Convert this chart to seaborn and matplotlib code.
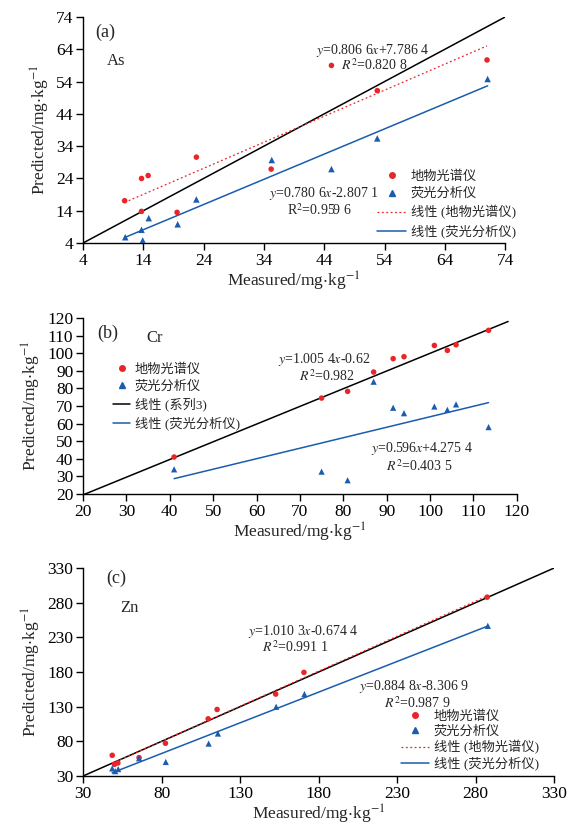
import numpy as np
import pandas as pd
import matplotlib
matplotlib.use("Agg")
import matplotlib.pyplot as plt
import seaborn as sns
from matplotlib.lines import Line2D

sns.set_style("ticks")
plt.rcParams['font.family'] = ['Liberation Serif', 'Noto Sans CJK SC']
plt.rcParams['mathtext.fontset'] = 'stix'
plt.rcParams['axes.unicode_minus'] = False

# (a) As
as_x_red = [10.9, 13.7, 14.8, 13.7, 19.6, 22.8, 35.2, 45.2, 52.8, 71.0]
as_y_red = [17.1, 24.0, 24.9, 13.8, 13.5, 30.6, 26.9, 59.0, 51.2, 60.7]
as_x_blue = [11.0, 13.7, 13.9, 14.9, 19.7, 22.8, 35.3, 45.2, 52.8, 71.1]
as_y_blue = [5.8, 8.1, 4.8, 11.7, 9.8, 17.5, 29.7, 26.9, 36.4, 54.8]
as_fit_red = [0.8066, 7.7864]
as_fit_blue = [0.7806, -2.8071]

# (b) Cr
cr_x = [41.0, 75.0, 81.0, 87.0, 91.5, 94.0, 101.0, 104.0, 106.0, 113.5]
cr_y_red = [41.0, 74.5, 78.3, 89.3, 96.9, 98.0, 104.4, 101.6, 104.8, 113.0]
cr_y_blue = [34.0, 32.7, 27.8, 83.8, 69.0, 65.9, 69.7, 67.8, 70.9, 58.0]
cr_fit_red = [1.0054, -0.62]
cr_fit_blue = [0.596, 4.2754]

# (c) Zn
zn_x_red = [48.6, 50.0, 52.2, 65.7, 82.5, 109.7, 115.4, 152.7, 170.7, 287.4]
zn_y_red = [59.9, 46.9, 48.8, 56.5, 77.3, 112.5, 126.0, 148.2, 179.5, 288.0]
zn_x_blue = [48.6, 50.5, 52.4, 65.7, 82.7, 110.0, 115.9, 153.0, 171.0, 287.8]
zn_y_blue = [41.0, 37.0, 40.0, 55.6, 50.3, 76.8, 91.3, 129.9, 148.2, 246.6]
zn_fit_red = [1.0103, -0.6744]
zn_fit_blue = [0.8848, -8.3069]

RED = '#e8262a'
BLUE = '#1a5cae'
EQ = 10
LEG = 9.5

fig = plt.figure(figsize=(5.83, 8.34), dpi=100)
ax_a = fig.add_axes([0.1424, 0.7086, 0.724, 0.271])
ax_b = fig.add_axes([0.1424, 0.4077, 0.744, 0.211])
ax_c = fig.add_axes([0.1424, 0.0695, 0.808, 0.2494])

ylab = r"Predicted/mg$\cdot$kg$^{-1}$"
xlab = r"Measured/mg$\cdot$kg$^{-1}$"


def scatter(ax, x, y, color, marker, size):
    df = pd.DataFrame({'x': x, 'y': y})
    sns.scatterplot(data=df, x='x', y='y', ax=ax, color=color, marker=marker,
                    s=size, edgecolor='none', zorder=4)


def fitline(ax, x, coef, **kw):
    xs = np.array([min(x), max(x)])
    df = pd.DataFrame({'x': xs, 'y': coef[0] * xs + coef[1]})
    sns.lineplot(data=df, x='x', y='y', ax=ax, **kw)


def style(ax, lim, ticks, tag, tag_xy, elem, elem_xy):
    ax.set_xlim(lim)
    ax.set_ylim(lim)
    ax.set_xticks(ticks)
    ax.set_yticks(ticks)
    ax.tick_params(labelsize=12.5, length=5, width=1, direction='out', colors='black', pad=2)
    for s in ['left', 'bottom']:
        ax.spines[s].set_color('black')
        ax.spines[s].set_linewidth(1)
    sns.despine(ax=ax)
    ax.set_xlabel(xlab, fontsize=12.5, labelpad=1)
    ax.set_ylabel(ylab, fontsize=12.5, labelpad=3)
    ax.text(tag_xy[0], tag_xy[1], tag, transform=ax.transAxes, fontsize=13, va='center')
    ax.text(elem_xy[0], elem_xy[1], elem, transform=ax.transAxes, fontsize=12, va='center')


def legend(ax, labels, handles, anchor, hl, pad, spacing=0.38):
    ax.legend(handles, labels, loc='upper left', bbox_to_anchor=anchor, frameon=False,
              fontsize=LEG, handlelength=hl, labelspacing=spacing, handletextpad=pad,
              borderaxespad=0, borderpad=0)


h_dot = Line2D([], [], color=RED, marker='o', ls='none', ms=4)
h_tri = Line2D([], [], color=BLUE, marker='^', ls='none', ms=4.5)
h_red_fit = Line2D([], [], color=RED, lw=0.9, ls=(0, (1.5, 2)))
h_blue_fit = Line2D([], [], color=BLUE, lw=1.1)
h_black = Line2D([], [], color='black', lw=1.1)

# ---- (a)
lim_a = [4, 74]
fitline(ax_a, lim_a, [1, 0], color='black', lw=1.1, zorder=3)
fitline(ax_a, as_x_red, as_fit_red, color=RED, lw=0.9, ls=(0, (1.5, 2)), zorder=3)
fitline(ax_a, as_x_blue, as_fit_blue, color=BLUE, lw=1.1, zorder=3)
scatter(ax_a, as_x_red, as_y_red, RED, 'o', 16)
scatter(ax_a, as_x_blue, as_y_blue, BLUE, '^', 22)
style(ax_a, lim_a, np.arange(4, 75, 10), '(a)', (0.028, 0.934), 'As', (0.057, 0.805))
ax_a.text(0.687, 0.854, r"$y$=0.806 6$x$+7.786 4", transform=ax_a.transAxes, fontsize=EQ, ha='center', va='center')
ax_a.text(0.69, 0.788, r"$R^2$=0.820 8", transform=ax_a.transAxes, fontsize=EQ, ha='center', va='center')
ax_a.text(0.571, 0.221, r"$y$=0.780 6$x$-2.807 1", transform=ax_a.transAxes, fontsize=EQ, ha='center', va='center')
ax_a.text(0.56, 0.146, r"R$^2$=0.959 6", transform=ax_a.transAxes, fontsize=EQ, ha='center', va='center')
legend(ax_a, ['地物光谱仪', '荧光分析仪', '线性 (地物光谱仪)', '线性 (荧光分析仪)'],
       [h_dot, h_tri, h_red_fit, h_blue_fit], (0.697, 0.322), 2.2, 0.35)

# ---- (b)
lim_b = [20, 120]
fitline(ax_b, [20, 118], cr_fit_red, color='black', lw=1.1, zorder=3)
fitline(ax_b, cr_x, cr_fit_blue, color=BLUE, lw=1.1, zorder=3)
scatter(ax_b, cr_x, cr_y_red, RED, 'o', 16)
scatter(ax_b, cr_x, cr_y_blue, BLUE, '^', 20)
style(ax_b, lim_b, np.arange(20, 121, 10), '(b)', (0.032, 0.915), 'Cr', (0.147, 0.886))
ax_b.text(0.555, 0.767, r"$y$=1.005 4$x$-0.62", transform=ax_b.transAxes, fontsize=EQ, ha='center', va='center')
ax_b.text(0.562, 0.67, r"$R^2$=0.982", transform=ax_b.transAxes, fontsize=EQ, ha='center', va='center')
ax_b.text(0.781, 0.26, r"$y$=0.596$x$+4.275 4", transform=ax_b.transAxes, fontsize=EQ, ha='center', va='center')
ax_b.text(0.776, 0.16, r"$R^2$=0.403 5", transform=ax_b.transAxes, fontsize=EQ, ha='center', va='center')
legend(ax_b, ['地物光谱仪', '荧光分析仪', '线性 (系列3)', '线性 (荧光分析仪)'],
       [h_dot, h_tri, h_black, h_blue_fit], (0.069, 0.745), 1.3, 0.35)

# ---- (c)
lim_c = [30, 330]
fitline(ax_c, lim_c, [1, 0], color='black', lw=1.1, zorder=3)
fitline(ax_c, zn_x_red, zn_fit_red, color=RED, lw=0.9, ls=(0, (1.5, 2)), zorder=3)
fitline(ax_c, zn_x_blue, zn_fit_blue, color=BLUE, lw=1.1, zorder=3)
scatter(ax_c, zn_x_red, zn_y_red, RED, 'o', 16)
scatter(ax_c, zn_x_blue, zn_y_blue, BLUE, '^', 20)
style(ax_c, lim_c, np.arange(30, 331, 50), '(c)', (0.05, 0.952), 'Zn', (0.078, 0.81))
ax_c.text(0.468, 0.697, r"$y$=1.010 3$x$-0.674 4", transform=ax_c.transAxes, fontsize=EQ, ha='center', va='center')
ax_c.text(0.451, 0.62, r"$R^2$=0.991 1", transform=ax_c.transAxes, fontsize=EQ, ha='center', va='center')
ax_c.text(0.702, 0.432, r"$y$=0.884 8$x$-8.306 9", transform=ax_c.transAxes, fontsize=EQ, ha='center', va='center')
ax_c.text(0.709, 0.35, r"$R^2$=0.987 9", transform=ax_c.transAxes, fontsize=EQ, ha='center', va='center')
legend(ax_c, ['地物光谱仪', '荧光分析仪', '线性 (地物光谱仪)', '线性 (荧光分析仪)'],
       [h_dot, h_tri, h_red_fit, h_blue_fit], (0.675, 0.318), 2.1, 0.4, spacing=0.2)

for ax in [ax_a, ax_b, ax_c]:
    ax.patch.set_alpha(0)

fig.savefig('out.png', dpi=100, facecolor='white')
